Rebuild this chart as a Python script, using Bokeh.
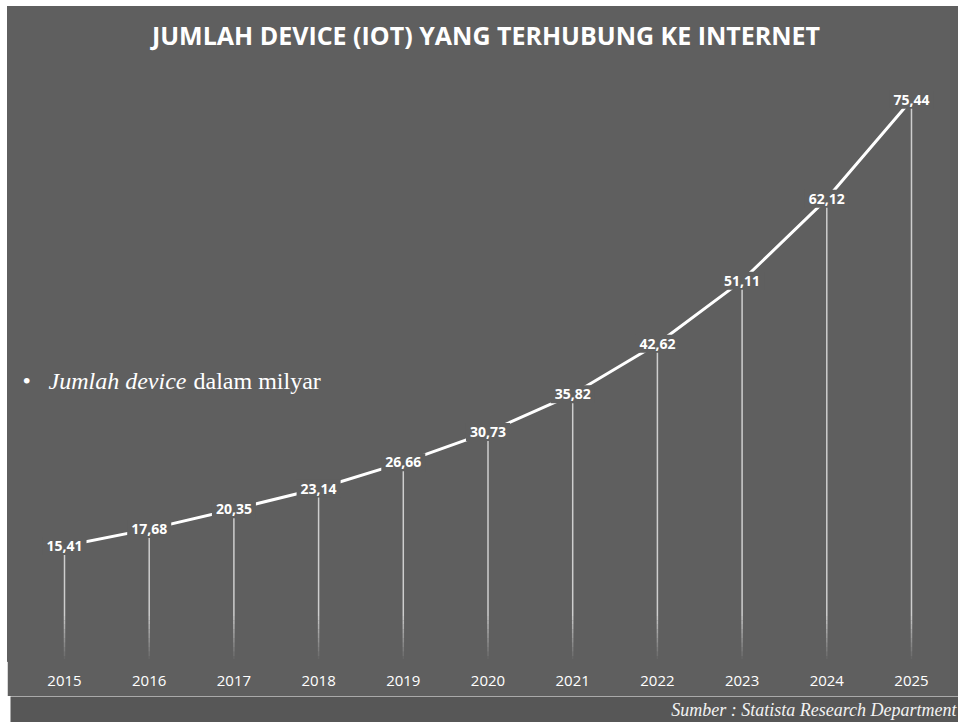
from bokeh.plotting import figure
from bokeh.models import Range1d, FixedTicker, ColumnDataSource, Label, Spacer
from bokeh.layouts import column, row
from bokeh.core.properties import value
from bokeh.embed import file_html
from bokeh.resources import INLINE

# ---- data ----
years = [2015, 2016, 2017, 2018, 2019, 2020, 2021, 2022, 2023, 2024, 2025]
devices = [15.41, 17.68, 20.35, 23.14, 26.66, 30.73, 35.82, 42.62, 51.11, 62.12, 75.44]
year_labels = ["2015", "2016", "2017", "2018", "2019", "2020", "2021", "2022", "2023", "2024", "2025"]
value_labels = [f"{v:.2f}".replace(".", ",") for v in devices]

TITLE = "JUMLAH DEVICE (IOT) YANG TERHUBUNG KE INTERNET"
NOTE_ITALIC = "Jumlah device"
NOTE_NORMAL = "dalam milyar"
SOURCE = "Sumber : Statista Research Department"

# ---- style ----
BG = "#5f5f5f"
FOOT_BG = "#575757"
W = 951
H_MAIN = 690
W_FOOT = 948
H_FOOT = 26
TOP = 0
BOTTOM = 36
X0, X1 = 2014.327, 2025.555
Y1 = 88.0

def sx(px):
    return X0 + (X1 - X0) * px / W

def sy(py):
    return (H_MAIN - BOTTOM - py) * Y1 / (H_MAIN - TOP - BOTTOM)

p = figure(width=W, height=H_MAIN, output_backend="svg", toolbar_location=None, title=None,
           x_range=Range1d(X0, X1), y_range=Range1d(0, Y1),
           background_fill_color=BG, border_fill_color=BG,
           min_border_left=0, min_border_right=0, min_border_top=TOP, min_border_bottom=BOTTOM)
# outline in the background colour hides the seam between frame and border
p.outline_line_color = BG
p.outline_line_width = 3
p.grid.visible = False
p.yaxis.visible = False

xa = p.xaxis[0]
xa.ticker = FixedTicker(ticks=years)
xa.major_label_overrides = {y: l for y, l in zip(years, year_labels)}
xa.axis_line_color = None
xa.major_tick_line_color = None
xa.minor_tick_line_color = None
xa.major_label_text_color = "white"
xa.major_label_text_font = "Open Sans"
xa.major_label_text_font_size = "15px"
xa.major_label_standoff = 9

# title
p.add_layout(Label(x=sx(478.5), y=sy(28), text=TITLE, text_color="white", text_font="Open Sans",
                   text_font_style="bold", text_font_size="25px", text_align="center", text_baseline="middle"))

# vertical drop lines with a fade toward the bottom
fade_stops = [6.0, 5.4, 4.8, 4.2, 3.6, 3.0, 2.4, 1.8, 1.2, 0.6, 0.2]
fade_alpha = [0.78, 0.7, 0.62, 0.54, 0.46, 0.38, 0.3, 0.22, 0.14, 0.06]
n = len(years)
p.segment(x0=years, y0=devices, x1=years, y1=[fade_stops[0]] * n,
          line_color="#e2e2e2", line_width=1.5, line_alpha=0.85)
for i in range(len(fade_alpha)):
    p.segment(x0=years, y0=[fade_stops[i]] * n, x1=years, y1=[fade_stops[i + 1]] * n,
              line_color="#e2e2e2", line_width=1.5, line_alpha=fade_alpha[i])

# main line
p.line(years, devices, line_color="white", line_width=3)

src = ColumnDataSource(dict(x=years, y=devices, t=value_labels))
p.text(x="x", y="y", text="t", source=src, text_font=value("Open Sans"), text_font_style="bold",
       text_font_size="14px", text_color="white", text_align="center", text_baseline="middle",
       background_fill_color=BG, padding=4)

# note text
p.add_layout(Label(x=sx(15), y=sy(374), text="\u2022", text_color="white", text_font="Liberation Serif",
                   text_font_size="24px", text_baseline="alphabetic", text_align="left"))
p.add_layout(Label(x=sx(41), y=sy(374), text=NOTE_ITALIC, text_color="white", text_font="Liberation Serif",
                   text_font_style="italic", text_font_size="24px", text_baseline="alphabetic", text_align="left"))
p.add_layout(Label(x=sx(186), y=sy(374), text=NOTE_NORMAL, text_color="white", text_font="Liberation Serif",
                   text_font_size="24px", text_baseline="alphabetic", text_align="left"))

# footer
f = figure(width=W_FOOT, height=H_FOOT, output_backend="svg", toolbar_location=None,
           x_range=Range1d(0, W_FOOT), y_range=Range1d(0, H_FOOT),
           background_fill_color=FOOT_BG, border_fill_color=FOOT_BG,
           min_border=0)
f.outline_line_color = None
f.grid.visible = False
f.axis.visible = False
f.add_layout(Label(x=W_FOOT - 2, y=H_FOOT / 2, text=SOURCE, text_color="#f2f2f2", text_font="Liberation Serif",
                   text_font_style="italic", text_font_size="18px", text_baseline="middle", text_align="right"))

layout = column(Spacer(height=6),
                row(Spacer(width=7), p),
                row(Spacer(width=10), f),
                spacing=0)
open("out.html", "w").write(file_html(layout, INLINE))
